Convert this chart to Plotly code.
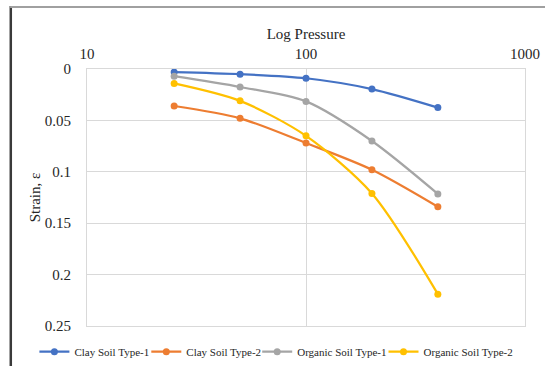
import plotly.graph_objects as go

# Consolidation test results: strain vs. applied pressure (log scale)
pressure = [25, 50, 100, 200, 400]

clay_type_1 = [0.003, 0.005, 0.009, 0.0195, 0.0375]
clay_type_2 = [0.036, 0.048, 0.072, 0.098, 0.134]
organic_type_1 = [0.007, 0.0175, 0.0315, 0.070, 0.1215]
organic_type_2 = [0.014, 0.031, 0.065, 0.121, 0.219]

series_names = ["Clay Soil Type-1", "Clay Soil Type-2",
                "Organic Soil Type-1", "Organic Soil Type-2"]
series_values = [clay_type_1, clay_type_2, organic_type_1, organic_type_2]
series_colors = ["#4472C4", "#ED7D31", "#A5A5A5", "#FFC000"]

x_tick_vals = [10, 100, 1000]
x_tick_text = ["10", "100", "1000"]
y_tick_vals = [0, 0.05, 0.1, 0.15, 0.2, 0.25]
y_tick_text = ["0", "0.05", "0.1", "0.15", "0.2", "0.25"]

W, H = 545, 366
L, R, T, B = 87, 19.5, 69, 39.5
PW, PH = W - L - R, H - T - B


def px_x(px):
    return (px - L) / PW


def px_y(py):
    return (H - B - py) / PH


FONT = "Liberation Serif, Times New Roman, serif"
TEXT = "#262626"
GRID = "#D9D9D9"

# one single-entry legend per series, laid out in a row under the plot
legend_text_left = [72.4, 184.3, 295.2, 421.5]
legend_ids = ["legend", "legend2", "legend3", "legend4"]

fig = go.Figure()
for name, vals, color, lid in zip(series_names, series_values,
                                  series_colors, legend_ids):
    fig.add_trace(go.Scatter(
        x=pressure, y=vals, name=name, mode="lines+markers",
        line=dict(color=color, width=2.25, shape="spline", smoothing=0.8),
        marker=dict(color=color, size=7),
        legend=lid,
    ))

legend_layout = {}
for lid, tx in zip(legend_ids, legend_text_left):
    legend_layout[lid] = dict(
        orientation="h",
        xref="container", x=(tx - 38) / W, xanchor="left",
        yref="container", y=1 - 351.7 / H, yanchor="middle",
        font=dict(family=FONT, size=11, color=TEXT),
        bgcolor="rgba(0,0,0,0)", borderwidth=0,
    )

fig.update_layout(
    width=W, height=H,
    margin=dict(l=L, r=R, t=T, b=B, pad=0, autoexpand=False),
    paper_bgcolor="white", plot_bgcolor="white",
    font=dict(family=FONT, size=15, color=TEXT),
    showlegend=True,
    xaxis=dict(
        type="log", side="top", range=[1, 3],
        tickvals=x_tick_vals, ticktext=x_tick_text,
        showgrid=True, gridcolor=GRID, gridwidth=1,
        showline=True, linecolor=GRID, linewidth=1, mirror=True,
        ticks="", ticklabelstandoff=3,
        title=dict(text="Log Pressure", standoff=2,
                   font=dict(family=FONT, size=15, color=TEXT)),
        zeroline=False,
    ),
    yaxis=dict(
        range=[0.25, 0], autorange=False,
        tickvals=y_tick_vals, ticktext=y_tick_text,
        showgrid=True, gridcolor=GRID, gridwidth=1,
        showline=True, linecolor=GRID, linewidth=1, mirror=True,
        ticks="", ticklabelstandoff=12,
        title=dict(text="Strain, ε", standoff=0,
                   font=dict(family=FONT, size=15, color=TEXT)),
        zeroline=False,
    ),
    shapes=[
        # chart frame: dark left edge and grey top edge
        dict(type="line", xref="paper", yref="paper",
             x0=px_x(10.7), x1=px_x(10.7), y0=px_y(6), y1=px_y(H + 2),
             line=dict(color="#3A3A3A", width=2.5)),
        dict(type="line", xref="paper", yref="paper",
             x0=px_x(10), x1=px_x(W + 2), y0=px_y(7), y1=px_y(7),
             line=dict(color="#A0A0A0", width=2)),
    ],
    **legend_layout,
)

fig.write_html("out.html")
